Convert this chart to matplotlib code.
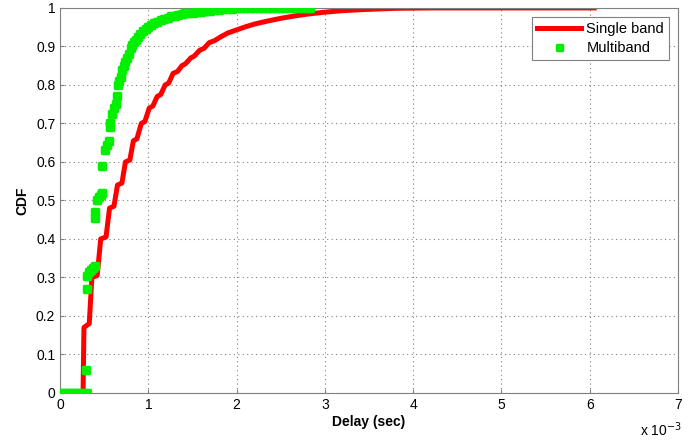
import numpy as np
import matplotlib
matplotlib.use('Agg')
import matplotlib.pyplot as plt
from matplotlib.markers import MarkerStyle

plt.rcParams['font.family'] = ['Liberation Sans', 'DejaVu Sans']

# delay in units of 1e-3 sec
single_x = [0.26, 0.27, 0.33, 0.36, 0.42, 0.46, 0.52, 0.56, 0.61, 0.65, 0.70,
            0.74, 0.79, 0.83, 0.87, 0.92, 0.96, 1.01, 1.05, 1.10, 1.14, 1.19,
            1.23, 1.28, 1.33, 1.38, 1.42, 1.48, 1.52, 1.58, 1.63, 1.69, 1.75,
            1.82, 1.90, 2.00, 2.10, 2.20, 2.35, 2.50, 2.65, 2.80, 3.00, 3.20,
            3.45, 3.80, 4.20, 6.05]
single_y = [0.0, 0.17, 0.18, 0.30, 0.305, 0.40, 0.405, 0.48, 0.485, 0.54, 0.545,
            0.60, 0.605, 0.655, 0.66, 0.70, 0.705, 0.74, 0.745, 0.77, 0.775, 0.80,
            0.805, 0.83, 0.835, 0.85, 0.855, 0.87, 0.875, 0.89, 0.895, 0.91, 0.915,
            0.925, 0.935, 0.943, 0.951, 0.958, 0.966, 0.973, 0.979, 0.984, 0.989, 0.993,
            0.996, 0.999, 1.0, 1.0]

multi_x = [0.0, 0.04, 0.08, 0.12, 0.16, 0.20, 0.24, 0.28, 0.30, 0.29, 0.31,
           0.31, 0.33, 0.35, 0.37, 0.39, 0.40, 0.40, 0.42, 0.44, 0.46, 0.47,
           0.47, 0.51, 0.53, 0.55, 0.57, 0.57, 0.59, 0.61, 0.63, 0.65, 0.66,
           0.67, 0.69, 0.70, 0.72, 0.74, 0.76, 0.78, 0.80, 0.82, 0.84, 0.86,
           0.88, 0.91, 0.94, 0.97, 1.00, 1.03, 1.06, 1.10, 1.14, 1.18, 1.22,
           1.26, 1.30, 1.34, 1.38, 1.42, 1.46, 1.50, 1.55, 1.60, 1.65, 1.70,
           1.75, 1.80, 1.85, 1.90, 1.95, 2.00, 2.05, 2.10, 2.15, 2.20, 2.25,
           2.30, 2.35, 2.40, 2.45, 2.50, 2.55, 2.60, 2.65, 2.70, 2.75, 2.80,
           2.83]
multi_y = [0.0, 0.0, 0.0, 0.0, 0.0, 0.0, 0.0, 0.0, 0.0, 0.06, 0.27,
           0.305, 0.315, 0.32, 0.325, 0.33, 0.455, 0.47, 0.50, 0.51, 0.515, 0.52,
           0.59, 0.63, 0.645, 0.655, 0.69, 0.70, 0.725, 0.74, 0.75, 0.77, 0.80,
           0.81, 0.82, 0.84, 0.85, 0.86, 0.87, 0.88, 0.895, 0.905, 0.912, 0.918,
           0.925, 0.933, 0.940, 0.946, 0.951, 0.956, 0.960, 0.964, 0.968, 0.972, 0.975,
           0.978, 0.980, 0.982, 0.984, 0.986, 0.987, 0.988, 0.989, 0.990, 0.992, 0.993,
           0.994, 0.995, 0.996, 0.997, 0.998, 0.999, 1.0, 1.0, 1.0, 1.0, 1.0,
           1.0, 1.0, 1.0, 1.0, 1.0, 1.0, 1.0, 1.0, 1.0, 1.0, 1.0,
           1.0]

fig = plt.figure(figsize=(6.99, 4.41), dpi=100)
ax = fig.add_axes([0.086, 0.109, 0.884, 0.873])

ax.plot(single_x, single_y, color='#ff0000', linewidth=3.6,
        solid_joinstyle='round', label='Single band', zorder=2)
ax.plot(multi_x, multi_y, linestyle='none',
        marker=MarkerStyle('s', joinstyle='round'), markersize=4.5,
        markeredgewidth=2.5, color='#00f000', markeredgecolor='#00f000',
        label='Multiband', zorder=3)

ax.set_xlim(0, 7)
ax.set_ylim(0, 1)
ax.set_xticks(range(0, 8))
ax.set_yticks(np.arange(0, 1.01, 0.1))
ax.set_yticklabels(['0', '0.1', '0.2', '0.3', '0.4', '0.5', '0.6', '0.7',
                    '0.8', '0.9', '1'])
ax.grid(True, linestyle=(0, (1, 3)), color='#808080', linewidth=0.8)
ax.tick_params(direction='in', length=3, labelsize=10, color='#808080')
for s in ax.spines.values():
    s.set_color('#808080')

ax.set_xlabel('Delay (sec)', fontsize=10, fontweight='bold', labelpad=2)
ax.set_ylabel('CDF', fontsize=10, fontweight='bold', labelpad=5)
fig.text(0.915, 0.012, r'x 10$^{-3}$', fontsize=10)

leg = ax.legend(loc='upper right', fontsize=10.5, fancybox=False,
                edgecolor='#808080', framealpha=1, borderaxespad=0.6,
                handlelength=3, borderpad=0.35, labelspacing=0.35,
                handletextpad=0.4, markerscale=0.8)
leg.get_frame().set_linewidth(0.8)

plt.savefig('out.png', dpi=100)
